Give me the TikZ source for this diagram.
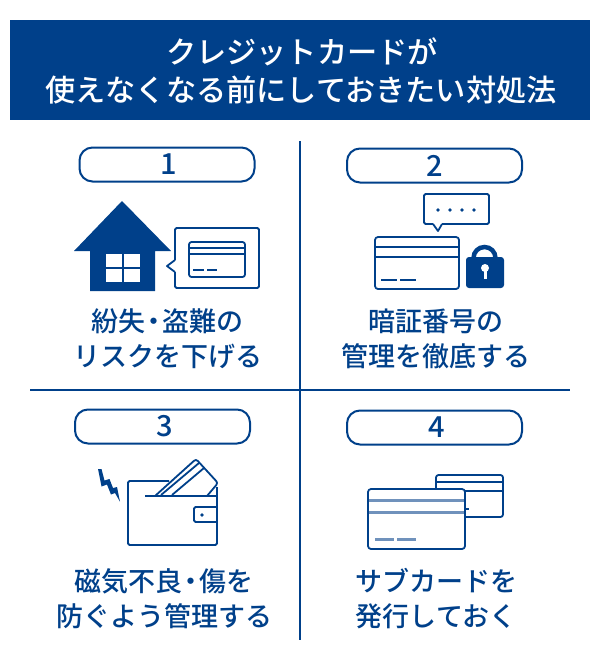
\documentclass[tikz,border=0pt]{standalone}
\usepackage{fontspec}
\setmainfont{Noto Sans CJK JP}
\newfontfamily\jpm{Noto Sans CJK JP Medium}
\definecolor{navy}{HTML}{00408A}
\definecolor{lightnavy}{HTML}{7092BC}
\tikzset{
  hd/.style={text=white,font=\jpm\fontsize{30.2}{32}\selectfont,inner sep=0pt,anchor=center},
  body/.style={text=navy,font=\jpm\fontsize{27}{30}\selectfont,inner sep=0pt,anchor=center},
  pill/.style={draw=navy,line width=2pt,rounded corners=13pt,fill=white,minimum width=175pt,minimum height=34pt,inner sep=0pt,text=navy,font=\jpm\fontsize{29}{30}\selectfont},
  ln/.style={draw=navy,line width=1.8pt,line join=round},
  rule/.style={draw=navy,line width=2pt},
}
\begin{document}
\begin{tikzpicture}[x=1pt,y=-1pt]
\useasboundingbox (0,0) rectangle (600,661);
\fill[navy] (10,20) rectangle (590,120);
\node[hd] (h1) at (302,52) {クレジットカードが};
\node[hd] (h2) at (301,90) {使えなくなる前にしておきたい対処法};
\draw[rule] (300,141) -- (300,640);
\draw[rule] (30,390) -- (570,390);
\node[pill] (p1) at (167,164.5) {\kern3pt 1};
\node[pill] (p2) at (434.5,165.5) {\kern1pt 2};
\node[pill] (p3) at (162.5,426.5) {\kern5pt 3};
\node[pill] (p4) at (434.5,427.5) {\kern5pt 4};
% house
\fill[navy] (122,201) -- (171,251) -- (155,251) -- (155,291) -- (90,291) -- (90,251) -- (74,251) -- cycle;
\fill[white] (106,254) rectangle (140,282);
\draw[navy,line width=1.6pt] (123,254) -- (123,282) (106,268) -- (140,268);
\draw[ln,rounded corners=1.5pt] (175,260) -- (175,228) -- (259,228) -- (259,288) -- (175,288) -- (175,272);
\draw[ln] (175,260) -- (167,266) -- (175,272);
\draw[ln,rounded corners=2.5pt] (189,242) rectangle (245,277);
\draw[ln] (189,248) -- (245,248) (189,254) -- (245,254);
\draw[ln] (193,270) -- (204,270) (207,270) -- (217,270);
% speech + card + lock
\draw[ln,rounded corners=1.5pt] (433,224) -- (424,224) -- (424,194) -- (489,194) -- (489,224) -- (442,224);
\draw[ln] (433,224) -- (438,231) -- (442,224);
\foreach \x in {438,450,462,474} \fill[navy] (\x,210) circle (1.9);
\draw[ln,rounded corners=3pt] (375,237) rectangle (459,289);
\draw[ln] (375,247) -- (459,247) (375,257) -- (459,257);
\draw[ln] (381,280) -- (397,280) (400,280) -- (416,280);
\draw[navy,line width=4.5pt] (473.5,260) -- (473.5,258) arc[start angle=180,end angle=360,radius=11] -- (495.5,260);
\fill[navy,rounded corners=3pt] (466,257) rectangle (504,288);
\fill[white] (485,268) circle (4);
\fill[white] (483.5,268) rectangle (486.5,279);
% wallet
\draw[ln,rounded corners=1.5pt] (169,481) -- (128,481) -- (128,545) -- (217,545) -- (217,487);
\draw[ln] (145,496) -- (217,496);
\draw[ln,rounded corners=1.5pt] (217,507) -- (194,507) -- (194,522) -- (217,522);
\fill[navy] (202,515) circle (1.9);
\draw[ln,rounded corners=2.5pt] (155,496) -- (196,459) -- (218,483) -- (207,496);
\draw[ln] (161,495) -- (199,463) (172,495) -- (204,468);
\fill[navy] (98,469) -- (101.5,469) -- (104.5,480.5) -- (109.5,479) -- (113,488) -- (117,487) -- (120,501.7) -- (115,493) -- (111,494.5) -- (107,484.5) -- (101.5,486.5) -- cycle;
% two cards
\draw[ln,rounded corners=2.5pt] (436,489) -- (436,475) -- (503,475) -- (503,517) -- (465,517);
\draw[ln] (436,482) -- (503,482) (436,491) -- (503,491);
\draw[ln] (465,509) -- (469,509);
\draw[ln,fill=white,rounded corners=3pt] (368,489) rectangle (465,549);
\draw[lightnavy,line width=3pt] (369,500) -- (464,500) (369,512) -- (464,512);
\draw[lightnavy,line width=3pt] (375,539) -- (394,539) (397,539) -- (416,539);
% labels
\node[body] (a1) at (167,321) {紛失\kern-5pt・\kern-5pt 盗難の};
\node[body] (a2) at (168,356) {リスクを下げる};
\node[body] (b1) at (435.5,321) {暗証番号の};
\node[body] (b2) at (436,356) {管理を徹底する};
\node[body] (c1) at (163.5,581) {磁気不良\kern-5pt・\kern-5pt 傷を};
\node[body] (c2) at (164.5,616) {防ぐよう管理する};
\node[body] (d1) at (436.5,581) {サブカードを};
\node[body] (d2) at (436,616) {発行しておく};
\end{tikzpicture}
\end{document}
